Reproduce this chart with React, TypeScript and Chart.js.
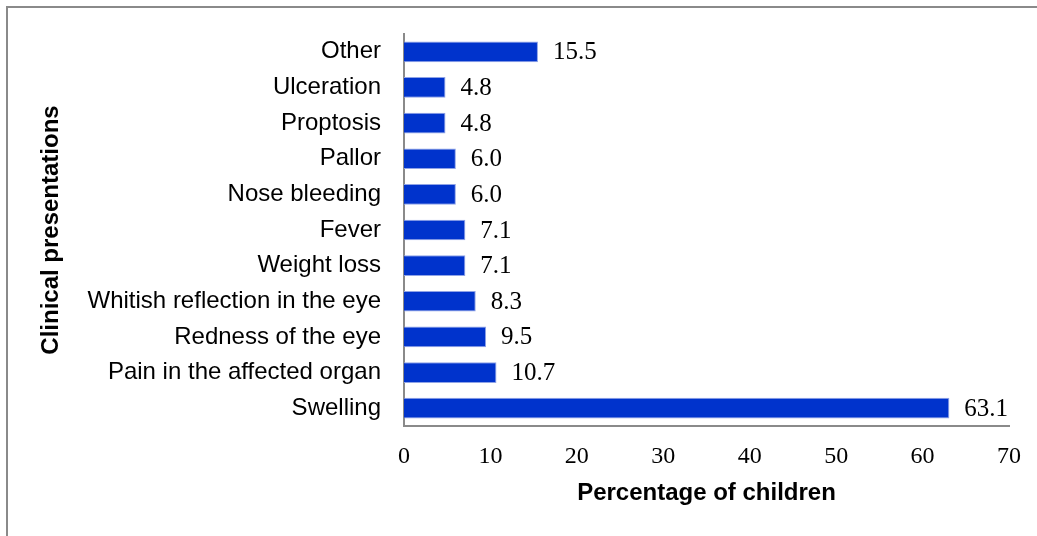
import React, { useEffect, useRef } from "react";
import { Chart, registerables } from "chart.js";

Chart.register(...registerables);

const categories: string[] = [
  "Other",
  "Ulceration",
  "Proptosis",
  "Pallor",
  "Nose bleeding",
  "Fever",
  "Weight loss",
  "Whitish reflection in the eye",
  "Redness of the eye",
  "Pain in the affected organ",
  "Swelling",
];

const percentages: number[] = [15.5, 4.8, 4.8, 6.0, 6.0, 7.1, 7.1, 8.3, 9.5, 10.7, 63.1];

const xTicks: number[] = [0, 10, 20, 30, 40, 50, 60, 70];

const xTitle = "Percentage of children";
const yTitle = "Clinical presentations";

const W = 1037;
const H = 536;

const SERIF = '"Liberation Serif", "Times New Roman", serif';
const SANS = '"Liberation Sans", Arial, sans-serif';

const frame = {
  id: "frame",
  beforeDraw(chart: any) {
    const ctx = chart.ctx;
    ctx.save();
    ctx.fillStyle = "#ffffff";
    ctx.fillRect(0, 0, W, H);
    ctx.strokeStyle = "#8a8a8a";
    ctx.lineWidth = 2;
    ctx.beginPath();
    ctx.moveTo(7, H);
    ctx.lineTo(7, 7);
    ctx.lineTo(W, 7);
    ctx.stroke();
    ctx.restore();
  },
};

const valueLabels = {
  id: "valueLabels",
  afterDatasetsDraw(chart: any) {
    const ctx = chart.ctx;
    const meta = chart.getDatasetMeta(0);
    const data = chart.data.datasets[0].data as number[];
    ctx.save();
    ctx.font = "25px " + SERIF;
    ctx.fillStyle = "#000000";
    ctx.textAlign = "left";
    ctx.textBaseline = "middle";
    meta.data.forEach((bar: any, i: number) => {
      ctx.fillText(data[i].toFixed(1), bar.x + 15, bar.y + 1);
    });
    ctx.restore();
  },
};

export default function App() {
  const ref = useRef<HTMLCanvasElement | null>(null);

  useEffect(() => {
    if (!ref.current) return;
    const chart = new Chart(ref.current, {
      type: "bar",
      data: {
        labels: categories,
        datasets: [
          {
            data: percentages,
            backgroundColor: "#0033cc",
            borderColor: "#8fa3e6",
            borderWidth: 1,
            categoryPercentage: 0.58,
            barPercentage: 1,
          },
        ],
      },
      options: {
        indexAxis: "y",
        animation: false,
        responsive: false,
        maintainAspectRatio: false,
        layout: { padding: { left: 0, top: 34, right: 28, bottom: 0 } },
        plugins: {
          legend: { display: false },
          tooltip: { enabled: false },
        },
        scales: {
          x: {
            type: "linear",
            min: 0,
            max: 70,
            afterBuildTicks: (scale: any) => {
              scale.ticks = xTicks.map((v) => ({ value: v }));
            },
            afterFit: (scale: any) => {
              scale.height = 110;
            },
            grid: { display: false, drawTicks: false },
            border: { display: true, color: "#8a8a8a", width: 2 },
            ticks: {
              color: "#000000",
              padding: 16,
              font: { family: SERIF, size: 24 },
            },
            title: {
              display: true,
              text: xTitle,
              color: "#000000",
              font: { family: SANS, size: 24, weight: "bold" },
              padding: { top: 0, bottom: 28 },
            },
          },
          y: {
            afterFit: (scale: any) => {
              scale.width = 404;
              scale.paddingTop = 0;
              scale.paddingBottom = 0;
            },
            grid: { display: false, drawTicks: false },
            border: { display: true, color: "#8a8a8a", width: 2 },
            ticks: {
              color: "#000000",
              padding: 23,
              autoSkip: false,
              font: { family: SANS, size: 24 },
            },
            title: {
              display: true,
              text: yTitle,
              color: "#000000",
              font: { family: SANS, size: 24, weight: "bold" },
              padding: { top: 37, bottom: 0 },
            },
          },
        },
      },
      plugins: [frame, valueLabels],
    });
    return () => chart.destroy();
  }, []);

  return (
    <div style={{ position: "fixed", left: 0, top: 0, width: W, height: H, background: "#fff" }}>
      <canvas ref={ref} width={W} height={H} style={{ display: "block", width: W, height: H }} />
    </div>
  );
}
